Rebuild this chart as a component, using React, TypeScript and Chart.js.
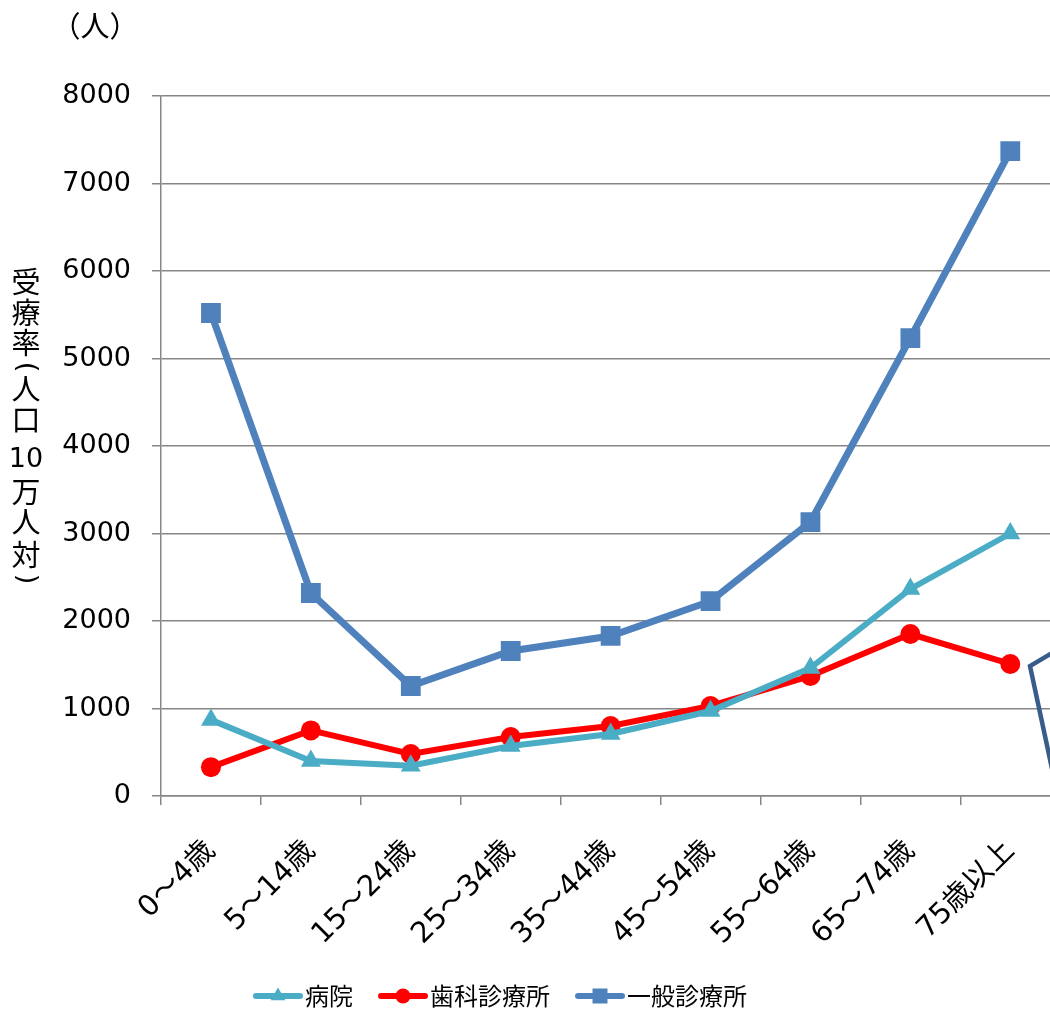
import React, { useEffect, useRef } from 'react';
import { Chart, registerables } from 'chart.js';

Chart.register(...registerables);

// ---- data ----
const categories = ['0〜4歳', '5〜14歳', '15〜24歳', '25〜34歳', '35〜44歳', '45〜54歳', '55〜64歳', '65〜74歳', '75歳以上'];
const hospital = [870, 400, 345, 571, 709, 971, 1463, 2366, 3000];
const dental = [330, 750, 480, 674, 800, 1029, 1371, 1851, 1509];
const clinic = [5520, 2320, 1257, 1657, 1829, 2226, 3131, 5234, 7371];
const seriesNames = ['病院', '歯科診療所', '一般診療所'];
const yMin = 0;
const yMax = 8000;
const yStep = 1000;
const yTitleParts = ['受', '療', '率', '(', '人', '口', '10', '万', '人', '対', ')'];
const unitLabel = '（人）';

const FONT = "'DejaVu Sans', 'Noto Sans CJK JP', sans-serif";
const CJK = "'Noto Sans CJK JP', 'DejaVu Sans', sans-serif";
const GRID = '#868686';
const TEAL = '#4BACC6';
const RED = '#FF0000';
const BLUE = '#4F81BD';

function drawMarker(ctx: CanvasRenderingContext2D, style: string, x: number, y: number, r: number) {
  ctx.beginPath();
  if (style === 'triangle') {
    ctx.moveTo(x, y - r);
    ctx.lineTo(x + r * 0.866, y + r * 0.5);
    ctx.lineTo(x - r * 0.866, y + r * 0.5);
    ctx.closePath();
  } else if (style === 'circle') {
    ctx.arc(x, y, r, 0, Math.PI * 2);
  } else {
    ctx.rect(x - r, y - r, 2 * r, 2 * r);
  }
  ctx.fill();
}

function legendImage(color: string, style: string, r: number) {
  const c = document.createElement('canvas');
  c.width = 70;
  c.height = 30;
  const ctx = c.getContext('2d')!;
  ctx.strokeStyle = color;
  ctx.fillStyle = color;
  ctx.lineWidth = 6;
  ctx.lineCap = 'round';
  ctx.beginPath();
  ctx.moveTo(22, 15);
  ctx.lineTo(66, 15);
  ctx.stroke();
  drawMarker(ctx, style, 44, 15, r);
  return c;
}

const decorPlugin = {
  id: 'decor',
  afterLayout(chart: any) {
    const lg = chart.legend;
    if (lg) {
      lg.left -= 35;
      lg.right -= 35;
    }
  },
  afterDraw(chart: any) {
    const ctx: CanvasRenderingContext2D = chart.ctx;
    ctx.save();
    ctx.fillStyle = '#000';
    ctx.textAlign = 'center';
    ctx.textBaseline = 'middle';
    ctx.font = `29px ${CJK}`;
    ctx.fillText(unitLabel, 95, 26);
    const ys = [282, 313, 343, 367, 389, 420, 460, 492, 522, 555, 579];
    yTitleParts.forEach((t, i) => {
      if (t === '(' || t === ')') {
        ctx.save();
        ctx.font = `27px ${FONT}`;
        ctx.translate(26, ys[i]);
        ctx.rotate(Math.PI / 2);
        ctx.fillText(t, 0, 0);
        ctx.restore();
        return;
      }
      ctx.font = /\d/.test(t) ? `27px ${FONT}` : `29px ${CJK}`;
      ctx.fillText(t, 26, ys[i]);
    });
    // partial callout outline at right edge
    ctx.strokeStyle = '#385D8A';
    ctx.lineWidth = 4.5;
    ctx.lineJoin = 'miter';
    ctx.beginPath();
    ctx.moveTo(1064, 646);
    ctx.lineTo(1030, 666);
    ctx.lineTo(1054, 778);
    ctx.stroke();
    ctx.restore();
  },
};

export default function App() {
  const ref = useRef<HTMLCanvasElement | null>(null);

  useEffect(() => {
    if (!ref.current) return;
    const imgs = [legendImage(TEAL, 'triangle', 8.5), legendImage(RED, 'circle', 7.5), legendImage(BLUE, 'rect', 7.5)];
    const chart = new Chart(ref.current, {
      type: 'line',
      data: {
        labels: categories,
        datasets: [
          {
            label: seriesNames[0],
            data: hospital,
            borderColor: TEAL,
            backgroundColor: TEAL,
            borderWidth: 6,
            pointStyle: 'triangle',
            pointRadius: 11.5,
            pointBorderWidth: 0,
            pointBackgroundColor: TEAL,
            tension: 0,
          },
          {
            label: seriesNames[1],
            data: dental,
            borderColor: RED,
            backgroundColor: RED,
            borderWidth: 6,
            pointStyle: 'circle',
            pointRadius: 10,
            pointBorderWidth: 0,
            pointBackgroundColor: RED,
            tension: 0,
          },
          {
            label: seriesNames[2],
            data: clinic,
            borderColor: BLUE,
            backgroundColor: BLUE,
            borderWidth: 7,
            pointStyle: 'rect',
            pointRadius: 14,
            pointBorderWidth: 0,
            pointBackgroundColor: BLUE,
            tension: 0,
          },
        ],
      },
      options: {
        responsive: false,
        devicePixelRatio: 1,
        animation: false,
        layout: { autoPadding: false, padding: { top: 96, left: 0, right: 2, bottom: 0 } },
        plugins: {
          tooltip: { enabled: false },
          legend: {
            position: 'bottom',
            labels: {
              usePointStyle: true,
              pointStyleWidth: 48,
              padding: 17,
              color: '#000',
              font: { family: CJK, size: 24 },
              generateLabels: (c: any) =>
                c.data.datasets.map((ds: any, i: number) => ({
                  text: ds.label,
                  pointStyle: imgs[i],
                  fillStyle: ds.borderColor,
                  strokeStyle: ds.borderColor,
                  lineWidth: 0,
                  hidden: false,
                  datasetIndex: i,
                  fontColor: '#000',
                })),
            },
          },
        },
        scales: {
          x: {
            offset: true,
            grid: {
              offset: true,
              drawOnChartArea: false,
              drawTicks: true,
              tickLength: 9,
              color: GRID,
              lineWidth: 1.5,
            },
            border: { color: GRID, width: 1.5 },
            ticks: {
              color: '#000',
              font: { family: FONT, size: 29 },
              minRotation: 45,
              maxRotation: 45,
              autoSkip: false,
              padding: 29,
            },
            afterFit: (s: any) => {
              s.height = 171;
            },
          },
          y: {
            min: yMin,
            max: yMax,
            grid: {
              color: GRID,
              lineWidth: 1.5,
              tickLength: 9,
            },
            border: { color: GRID, width: 1.5 },
            ticks: {
              stepSize: yStep,
              color: '#000',
              font: { family: FONT, size: 27 },
              padding: 21,
              callback: (v: any) => String(v),
            },
            afterFit: (s: any) => {
              s.width = 161;
            },
          },
        },
      },
      plugins: [decorPlugin],
    });
    return () => chart.destroy();
  }, []);

  return (
    <div style={{ position: 'absolute', left: 0, top: 0, width: 1050, height: 1011, overflow: 'hidden', background: '#fff' }}>
      <canvas ref={ref} width={1064} height={1018} style={{ display: 'block', width: 1064, height: 1018 }} />
    </div>
  );
}
